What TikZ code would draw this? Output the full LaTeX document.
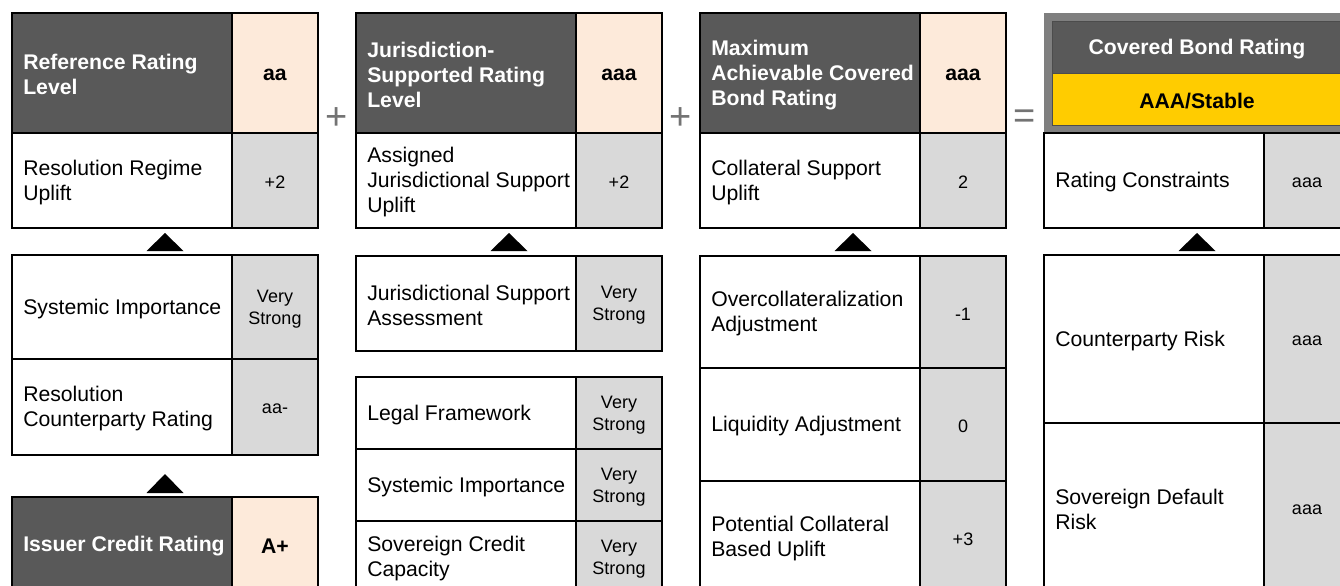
\documentclass[tikz,border=0pt]{standalone}
\usepackage{fontspec}
\setmainfont{Liberation Sans}
\usetikzlibrary{calc}

\definecolor{hdr}{HTML}{595959}
\definecolor{peach}{HTML}{FDEADA}
\definecolor{valgray}{HTML}{D9D9D9}
\definecolor{gold}{HTML}{FFCC00}
\definecolor{framegray}{HTML}{7F7F7F}
\definecolor{opgray}{HTML}{737373}

% 1 unit = 0.75pt
\newcommand\lblfont{\fontsize{15.9pt}{18.75pt}\selectfont}
\newcommand\valfont{\fontsize{13.5pt}{16.5pt}\selectfont}
\newcommand\opfont{\fontsize{28.5pt}{28.5pt}\selectfont}

\tikzset{
  cell/.style={draw=black, line width=1pt, inner sep=0pt, outer sep=0pt},
  labtext/.style={font=\lblfont, align=left, inner sep=0pt, anchor=west},
  hdrtext/.style={labtext, text=white, font=\lblfont\bfseries},
  valtext/.style={font=\valfont, align=center, inner sep=0pt},
  hvaltext/.style={valtext, font=\lblfont\bfseries},
  val/.style={cell, fill=valgray},
  hval/.style={cell, fill=peach},
  op/.style={text=opgray, font=\opfont, inner sep=0pt},
  tri/.style={fill=black},
}

% #1 style, #2 name, #3 x1, #4 y1, #5 x2, #6 y2
\newcommand\cellbox[6]{%
  \node[#1, minimum width={(#5-#3)*0.75pt}, minimum height={(#6-#4)*0.75pt}]
    (#2) at ({(#3+#5)/2},{(#4+#6)/2}) {};}
% label cell: name, x1, y1, x2, y2, text
\newcommand\labcell[6]{%
  \cellbox{cell,fill=white}{#1}{#2}{#3}{#4}{#5}%
  \node[labtext] (#1-t) at ([xshift=8.25pt,yshift=-1.3pt]#1.west) {#6};}
% header cell: name, x1, y1, x2, y2, text
\newcommand\hdrcell[6]{%
  \cellbox{cell,fill=hdr}{#1}{#2}{#3}{#4}{#5}%
  \node[hdrtext] (#1-t) at ([xshift=8.25pt,yshift=-1.3pt]#1.west) {#6};}
% centred cell: box style, text style, name, x1, y1, x2, y2, text
\newcommand\ctrcell[8]{%
  \cellbox{#1}{#3}{#4}{#5}{#6}{#7}%
  \node[#2] (#3-t) at ([yshift=-1.4pt]#3.center) {#8};}
% upward triangle: name, centre x, tip y, base y
\newcommand\uptri[4]{%
  \coordinate (#1) at (#2,#3);
  \fill[tri] ({#2-18.5},#4) -- ({#2+18.5},#4) -- (#1) -- cycle;}

\begin{document}
\begin{tikzpicture}[x=0.75pt,y=-0.75pt]
\useasboundingbox (0,0) rectangle (1340,586);
\clip (0,0) rectangle (1340,586);

% ---- Reference rating level ----
\hdrcell{refh}{12}{13}{232}{133}{Reference Rating\\Level}
\ctrcell{hval}{hvaltext}{refv}{232}{13}{318}{133}{aa}
\labcell{resreg}{12}{133}{232}{228}{Resolution Regime\\Uplift}
\ctrcell{val}{valtext}{resregv}{232}{133}{318}{228}{+2}
\uptri{triA}{165}{233}{251}
\labcell{sysimp}{12}{255}{232}{359}{Systemic Importance}
\ctrcell{val}{valtext}{sysimpv}{232}{255}{318}{359}{Very\\Strong}
\labcell{rescp}{12}{359}{232}{455}{Resolution\\Counterparty Rating}
\ctrcell{val}{valtext}{rescpv}{232}{359}{318}{455}{aa-}
\uptri{triB}{165}{474}{493}
\hdrcell{icr}{12}{497}{232}{592}{Issuer Credit Rating}
\ctrcell{hval}{hvaltext}{icrv}{232}{497}{318}{592}{A+}

\node[op] (plusA) at (337,119) {+};

% ---- Jurisdiction-supported rating level ----
\hdrcell{jurh}{356}{13}{576}{133}{Jurisdiction-\\Supported Rating\\Level}
\ctrcell{hval}{hvaltext}{jurv}{576}{13}{662}{133}{aaa}
\labcell{ajsu}{356}{133}{576}{228}{Assigned\\Jurisdictional~Support\\Uplift}
\ctrcell{val}{valtext}{ajsuv}{576}{133}{662}{228}{+2}
\uptri{triC}{509}{233}{251}
\labcell{jsa}{356}{256}{576}{351}{Jurisdictional~Support\\Assessment}
\ctrcell{val}{valtext}{jsav}{576}{256}{662}{351}{Very\\Strong}
\labcell{legal}{356}{377}{576}{449}{Legal Framework}
\ctrcell{val}{valtext}{legalv}{576}{377}{662}{449}{Very\\Strong}
\labcell{sysimpB}{356}{449}{576}{521}{Systemic~Importance}
\ctrcell{val}{valtext}{sysimpBv}{576}{449}{662}{521}{Very\\Strong}
\labcell{sovcc}{356}{521}{576}{593}{Sovereign Credit\\Capacity}
\ctrcell{val}{valtext}{sovccv}{576}{521}{662}{593}{Very\\Strong}

\node[op] (plusB) at (681,119) {+};

% ---- Maximum achievable covered bond rating ----
\hdrcell{maxh}{700}{13}{920}{133}{Maximum\\Achievable~Covered\\Bond Rating}
\ctrcell{hval}{hvaltext}{maxv}{920}{13}{1006}{133}{aaa}
\labcell{csu}{700}{133}{920}{228}{Collateral Support\\Uplift}
\ctrcell{val}{valtext}{csuv}{920}{133}{1006}{228}{2}
\uptri{triD}{853}{233}{251}
\labcell{oca}{700}{256}{920}{368}{Overcollateralization\\Adjustment}
\ctrcell{val}{valtext}{ocav}{920}{256}{1006}{368}{-1}
\labcell{liq}{700}{368}{920}{481}{Liquidity Adjustment}
\ctrcell{val}{valtext}{liqv}{920}{368}{1006}{481}{0}
\labcell{pcbu}{700}{481}{920}{593}{Potential Collateral\\Based Uplift}
\ctrcell{val}{valtext}{pcbuv}{920}{481}{1006}{593}{+3}

\node[op] (equals) at (1025,119) {=};

% ---- Covered bond rating ----
\cellbox{fill=framegray,inner sep=0pt}{cbframe}{1044}{13}{1350}{133}
\ctrcell{cell,fill=hdr,draw=black!70,line width=0.6pt}{hdrtext,anchor=center,align=center}{cbtitle}{1052}{21}{1342}{73}{Covered Bond Rating}
\ctrcell{cell,fill=gold,draw=black!70,line width=0.6pt}{hvaltext}{cbrating}{1052}{73}{1342}{125}{AAA/Stable}
\labcell{rc}{1044}{133}{1264}{228}{Rating Constraints}
\ctrcell{val}{valtext}{rcv}{1264}{133}{1350}{228}{aaa}
\uptri{triE}{1197}{233}{251}
\labcell{cpr}{1044}{255}{1264}{423}{Counterparty Risk}
\ctrcell{val}{valtext}{cprv}{1264}{255}{1350}{423}{aaa}
\labcell{sdr}{1044}{423}{1264}{593}{Sovereign Default\\Risk}
\ctrcell{val}{valtext}{sdrv}{1264}{423}{1350}{593}{aaa}
\end{tikzpicture}
\end{document}
